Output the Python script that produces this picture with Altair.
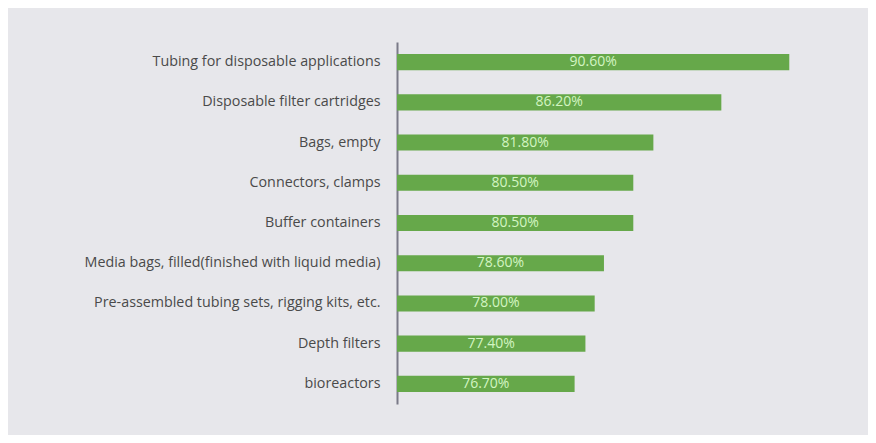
import altair as alt
import pandas as pd

categories = [
    "Tubing for disposable applications",
    "Disposable filter cartridges",
    "Bags, empty",
    "Connectors, clamps",
    "Buffer containers",
    "Media bags, filled(finished with liquid media)",
    "Pre-assembled tubing sets, rigging kits, etc.",
    "Depth filters",
    "bioreactors",
]
values = [90.6, 86.2, 81.8, 80.5, 80.5, 78.6, 78.0, 77.4, 76.7]
labels = ["90.60%", "86.20%", "81.80%", "80.50%", "80.50%", "78.60%", "78.00%", "77.40%", "76.70%"]

X_MIN = 65.2
X_MAX = 92.2

df = pd.DataFrame({"category": categories, "value": values, "label": labels})
df["start"] = X_MIN
df["mid"] = (df["value"] + X_MIN) / 2

x_scale = alt.Scale(domain=[X_MIN, X_MAX], nice=False, zero=False, clamp=False)
y_enc = alt.Y(
    "category:N",
    sort=categories,
    scale=alt.Scale(paddingInner=0.6, paddingOuter=0.3),
    axis=alt.Axis(
        title=None,
        ticks=False,
        labelFont="Open Sans",
        labelFontSize=14.3,
        labelColor="#4a4a4a",
        labelPadding=17,
        labelLimit=400,
        domainColor="#7a7a88",
        domainWidth=2,
    ),
)

bars = alt.Chart(df).mark_bar(color="#66a84a").encode(
    x=alt.X("start:Q", scale=x_scale, axis=None),
    x2="value:Q",
    y=y_enc,
)

text = alt.Chart(df).mark_text(
    color="#d3f5c2", font="Open Sans", fontSize=14, align="center", baseline="middle"
).encode(
    x=alt.X("mid:Q", scale=x_scale, axis=None),
    y=alt.Y("category:N", sort=categories),
    text="label:N",
)

chart = (
    alt.layer(bars, text)
    .properties(
        width=417,
        height=362,
        autosize=alt.AutoSizeParams(type="none"),
        padding={"left": 389, "top": 34, "right": 54, "bottom": 31},
        background="#e7e7eb",
    )
    .configure_view(stroke=None)
    .configure_axis(grid=False)
)

chart.save("out.html", embed_options={"renderer": "svg", "actions": False})
